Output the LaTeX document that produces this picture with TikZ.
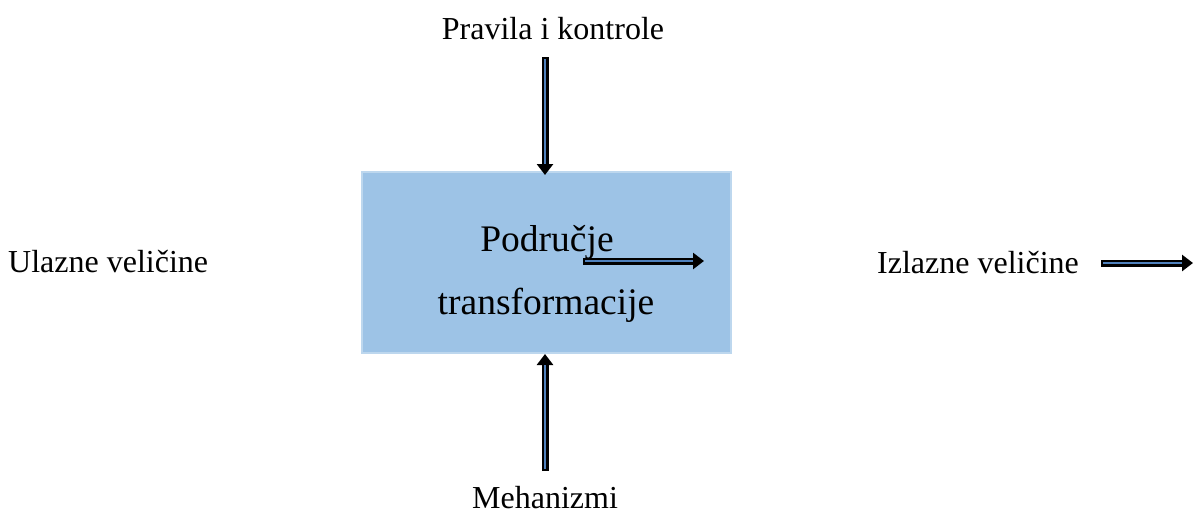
\documentclass[tikz,border=0pt]{standalone}
\usepackage{fontspec}
\setmainfont{Liberation Serif}
\usetikzlibrary{arrows.meta}
\definecolor{boxfill}{RGB}{157,195,230}
\definecolor{boxedge}{RGB}{189,215,238}
\definecolor{shaft}{RGB}{79,129,189}
\tikzset{
  lbl/.style={font=\fontsize{32}{36}\selectfont, inner sep=0pt, anchor=base},
  big/.style={font=\fontsize{37.5}{40}\selectfont, inner sep=0pt, anchor=base},
  blkout/.style={line width=7pt, black, -{Triangle[length=11pt,width=16pt]}},
  blkin/.style={line width=2.8pt, shaft, shorten >=11pt, shorten <=2pt},
}
\newcommand{\blockarrow}[2]{%
  \draw[blkout] (#1) -- (#2);
  \draw[blkin] (#1) -- (#2);}
\begin{document}
\begin{tikzpicture}[x=1pt,y=-1pt]
\useasboundingbox (0,0) rectangle (1199,515);
\node[draw=boxedge, line width=1.5pt, fill=boxfill, minimum width=369pt, minimum height=181pt, inner sep=0pt] (box) at (546.5,262.5) {};
\node[lbl] (pk) at (553,39) {Pravila i kontrole};
\node[lbl, anchor=base west] (ul) at (8,272) {Ulazne veličine};
\node[lbl, anchor=base west] (iz) at (877,273) {Izlazne veličine};
\node[lbl] (me) at (545,508) {Mehanizmi};
\node[big] (po) at (547,251) {Područje};
\node[big] (tr) at (546,314) {transformacije};
\coordinate (t1) at (545,57);
\coordinate (t2) at (545,175);
\coordinate (b1) at (545,471);
\coordinate (b2) at (545,354);
\coordinate (m1) at (583,261);
\coordinate (m2) at (704,261);
\coordinate (r1) at (1101,263);
\coordinate (r2) at (1193,263);
\blockarrow{t1}{t2}
\blockarrow{b1}{b2}
\blockarrow{m1}{m2}
\blockarrow{r1}{r2}
\end{tikzpicture}
\end{document}
